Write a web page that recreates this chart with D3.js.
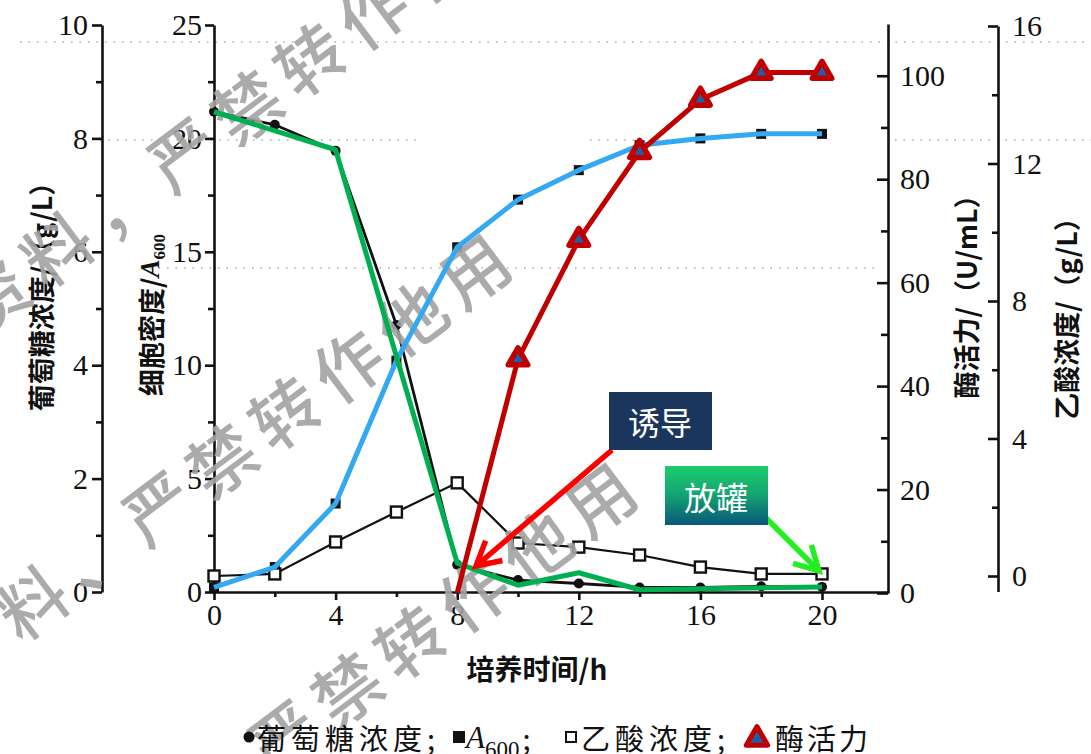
<!DOCTYPE html>
<html lang="zh">
<head>
  <meta charset="UTF-8">
  <title>发酵过程曲线</title>
  <script src="https://d3js.org/d3.v7.min.js"></script>
  <style>
    body { margin: 0; background: #fff; }
    svg { display: block; }
    .num { font-family: "Liberation Serif", "DejaVu Serif", serif; font-size: 30px; fill: #111; }
    .cjk { font-family: "Noto Sans CJK SC", sans-serif; fill: #111; }
    .axis path, .axis line { stroke: #111; stroke-width: 2.6; }
  </style>
</head>
<body>
<svg id="chart" width="1091" height="754"></svg>
<script>
  // sampling times (h)
  const hours = [0, 2, 4, 6, 8, 10, 12, 14, 16, 18, 20];
  // glucose g/L (filled circles)
  const glucose = [8.47, 8.24, 7.78, 4.71, 0.48, 0.21, 0.15, 0.08, 0.08, 0.1, 0.09];
  // cell density A600 (filled squares)
  const a600 = [0.2, 1.1, 3.9, 10.2, 15.2, 17.3, 18.6, 19.7, 20.0, 20.2, 20.2];
  // acetic acid g/L (open squares)
  const acetate = [0, 0.06, 0.99, 1.86, 2.71, 0.96, 0.84, 0.61, 0.26, 0.06, 0.06];
  // enzyme activity U/mL (triangles), measured after induction
  const enzymeHours = [8, 10, 12, 14, 16, 18, 20];
  const enzyme = [0, 45.2, 68.3, 85.3, 95.4, 100.6, 100.6];
  // green hand-drawn trace laid over the glucose curve
  const glucoseTraceHours = [0, 4, 8, 10, 12, 14, 20];
  const glucoseTrace = [8.47, 7.8, 0.51, 0.12, 0.34, 0.04, 0.09];

  // tick labels
  const timeTicks = [0, 4, 8, 12, 16, 20];
  const timeMinor = [2, 6, 10, 14, 18];
  const glucoseTicks = [0, 2, 4, 6, 8, 10];
  const glucoseMinor = [1, 3, 5, 7, 9];
  const cellTicks = [0, 5, 10, 15, 20, 25];
  const cellMinor = [2.5, 7.5, 12.5, 17.5, 22.5];
  const enzymeTicks = [0, 20, 40, 60, 80, 100];
  const enzymeMinor = [10, 30, 50, 70, 90];
  const acidTicks = [0, 4, 8, 12, 16];
  const acidMinor = [2, 6, 10, 14];

  const legendLabels = ["葡萄糖浓度;", "乙酸浓度;", "酶活力"];
  const watermark = ["资料，严禁转作他", "料、严禁转作他用", "严禁转作他用"];

  const svg = d3.select("#chart");
  svg.append("rect").attr("width", 1091).attr("height", 754).attr("fill", "#fff");

  // scales
  const x = d3.scaleLinear().domain([0, 20]).range([214, 822]);
  const xAxisScale = d3.scaleLinear().domain([0, x.invert(888)]).range([214, 888]);
  const yGlu = d3.scaleLinear().domain([0, 10]).range([592, 25]);
  const yCell = d3.scaleLinear().domain([0, 25]).range([592, 25]);
  const yEnz = d3.scaleLinear().domain([0, 110]).range([593, 24]);
  const yAcid = d3.scaleLinear().domain([0, 16]).range([576, 26]);
  const yAcidAxis = d3.scaleLinear().domain([-0.45, 16]).range([yAcid(-0.45), yAcid(16)]);

  // faint dotted scan noise rows
  [[20, 1091, 42], [100, 420, 140], [590, 700, 140], [895, 1091, 140], [150, 880, 268]].forEach(r => {
    svg.append("line").attr("x1", r[0]).attr("x2", r[1]).attr("y1", r[2]).attr("y2", r[2])
      .attr("stroke", "#333").attr("stroke-width", 1.6).attr("stroke-dasharray", "1.5 7")
      .attr("opacity", 0.4);
  });

  function axis(gen, pos, major, minor, majorSize, minorSize, isX) {
    const g = svg.append("g").attr("class", "axis")
      .attr("transform", isX ? `translate(0,${pos})` : `translate(${pos},0)`);
    g.call(gen.tickValues(major).tickSizeInner(majorSize).tickSizeOuter(0).tickFormat(d3.format("d")));
    g.selectAll("text").attr("class", "num");
    const gm = svg.append("g").attr("class", "axis")
      .attr("transform", isX ? `translate(0,${pos})` : `translate(${pos},0)`);
    gm.call(gen.tickValues(minor).tickSizeInner(minorSize).tickFormat(""));
    gm.select(".domain").remove();
    return g;
  }

  axis(d3.axisLeft(yGlu).tickPadding(4), 102, glucoseTicks, glucoseMinor, 10, 6);
  axis(d3.axisLeft(yCell).tickPadding(3), 214, cellTicks, cellMinor, 9, 6);
  axis(d3.axisBottom(xAxisScale).tickPadding(4), 592, timeTicks, timeMinor, 8, 5, true);
  axis(d3.axisRight(yEnz).tickPadding(12), 888, enzymeTicks, enzymeMinor, -11, -7);
  axis(d3.axisRight(yAcidAxis).tickPadding(14), 998, acidTicks, acidMinor, -10, -6);

  // axis titles
  function vTitle(cx, cy, parts) {
    const t = svg.append("text").attr("class", "cjk")
      .attr("transform", `translate(${cx},${cy}) rotate(-90)`)
      .attr("text-anchor", "middle").attr("dominant-baseline", "central")
      .style("font-size", "27px").style("font-weight", 700);
    parts.forEach(p => {
      const s = t.append("tspan").text(p.t);
      if (p.italic) s.style("font-style", "italic").style("font-family", "Liberation Serif, serif");
      if (p.sub) s.attr("baseline-shift", "sub").style("font-size", "17px").style("font-family", "Liberation Serif, serif");
    });
  }
  vTitle(40, 290, [{ t: "葡萄糖浓度/（g/L）" }]);
  vTitle(150, 315, [{ t: "细胞密度/" }, { t: "A", italic: true }, { t: "600", sub: true }]);
  vTitle(965, 290, [{ t: "酶活力/（U/mL）" }]);
  vTitle(1065, 312, [{ t: "乙酸浓度/（g/L）" }]);

  svg.append("text").attr("class", "cjk").attr("x", 537).attr("y", 668)
    .attr("text-anchor", "middle").attr("dominant-baseline", "central")
    .style("font-size", "28px").style("font-weight", 700).text("培养时间/h");

  // black scanned series
  const lineG = d3.line().x((d, i) => x(hours[i])).y(d => yGlu(d));
  const lineC = d3.line().x((d, i) => x(hours[i])).y(d => yCell(d));
  const lineA = d3.line().x((d, i) => x(hours[i])).y(d => yAcid(d));

  svg.append("path").attr("d", lineA(acetate)).attr("fill", "none")
    .attr("stroke", "#111").attr("stroke-width", 2.2);
  svg.append("path").attr("d", lineG(glucose)).attr("fill", "none")
    .attr("stroke", "#111").attr("stroke-width", 2.8);
  svg.append("path").attr("d", lineC(a600)).attr("fill", "none")
    .attr("stroke", "#111").attr("stroke-width", 2.8);

  svg.selectAll(".glc").data(glucose).enter().append("circle")
    .attr("cx", (d, i) => x(hours[i])).attr("cy", d => yGlu(d)).attr("r", 5).attr("fill", "#111");
  svg.selectAll(".cell").data(a600).enter().append("rect")
    .attr("x", (d, i) => x(hours[i]) - 5).attr("y", d => yCell(d) - 5)
    .attr("width", 10).attr("height", 10).attr("fill", "#111");
  svg.selectAll(".acid").data(acetate).enter().append("rect")
    .attr("x", (d, i) => x(hours[i]) - 5.5).attr("y", d => yAcid(d) - 5.5)
    .attr("width", 11).attr("height", 11).attr("fill", "#fff")
    .attr("stroke", "#111").attr("stroke-width", 2.4);

  // watermark (first character centre, then along the diagonal)
  const wmPos = [[-8, 294], [30, 600], [282, 734]];
  watermark.forEach((w, i) => {
    svg.append("text").attr("class", "cjk")
      .attr("transform", `translate(${wmPos[i][0]},${wmPos[i][1]}) rotate(-36.9)`)
      .attr("x", -34).attr("dominant-baseline", "central")
      .style("font-size", "68px").style("font-weight", 500).style("letter-spacing", "11px")
      .style("fill", "#a3a3a3").style("opacity", 0.9).text(w);
  });

  // coloured overlays
  svg.append("path").attr("d", lineC(a600)).attr("fill", "none")
    .attr("stroke", "#35a8f2").attr("stroke-width", 5).attr("stroke-linejoin", "round");
  svg.append("path")
    .attr("d", d3.line().x((d, i) => x(glucoseTraceHours[i])).y(d => yGlu(d))(glucoseTrace))
    .attr("fill", "none").attr("stroke", "#00b050").attr("stroke-width", 5).attr("stroke-linejoin", "round");

  const lineE = d3.line().x((d, i) => x(enzymeHours[i])).y(d => yEnz(d));
  svg.append("path").attr("d", lineE(enzyme)).attr("fill", "none")
    .attr("stroke", "#c00000").attr("stroke-width", 5).attr("stroke-linejoin", "round");
  const tri = d3.symbol().type(d3.symbolTriangle).size(165);
  svg.selectAll(".enz").data(enzyme.slice(1)).enter().append("path")
    .attr("d", tri)
    .attr("transform", (d, i) => `translate(${x(enzymeHours[i + 1])},${yEnz(d)})`)
    .attr("fill", "#1f5fa8").attr("stroke", "#c00000").attr("stroke-width", 5.5)
    .attr("stroke-linejoin", "round");

  // annotations
  const defs = svg.append("defs");
  const grad = defs.append("linearGradient").attr("id", "relGrad")
    .attr("x1", 0).attr("y1", 0).attr("x2", 0).attr("y2", 1);
  grad.append("stop").attr("offset", "0%").attr("stop-color", "#1dcc6c");
  grad.append("stop").attr("offset", "45%").attr("stop-color", "#14a872");
  grad.append("stop").attr("offset", "100%").attr("stop-color", "#0a5878");

  function arrow(x1, y1, x2, y2, color) {
    const a = Math.atan2(y2 - y1, x2 - x1), L = 27, sp = 0.5;
    svg.append("line").attr("x1", x1).attr("y1", y1).attr("x2", x2).attr("y2", y2)
      .attr("stroke", color).attr("stroke-width", 5.5);
    const head = [[x2 - L * Math.cos(a - sp), y2 - L * Math.sin(a - sp)], [x2, y2],
                  [x2 - L * Math.cos(a + sp), y2 - L * Math.sin(a + sp)]];
    svg.append("path").attr("d", d3.line()(head)).attr("fill", "none")
      .attr("stroke", color).attr("stroke-width", 5.5).attr("stroke-linejoin", "miter");
  }
  arrow(612, 450, 476, 566, "#ff0000");
  arrow(766, 518, 819, 571, "#22ee22");

  svg.append("rect").attr("x", 609).attr("y", 392).attr("width", 103).attr("height", 58).attr("fill", "#1b365d");
  svg.append("text").attr("class", "cjk").attr("x", 660).attr("y", 421)
    .attr("text-anchor", "middle").attr("dominant-baseline", "central")
    .style("font-size", "32px").style("fill", "#fff").text("诱导");
  svg.append("rect").attr("x", 665).attr("y", 466).attr("width", 103).attr("height", 59).attr("fill", "url(#relGrad)");
  svg.append("text").attr("class", "cjk").attr("x", 716).attr("y", 496)
    .attr("text-anchor", "middle").attr("dominant-baseline", "central")
    .style("font-size", "32px").style("fill", "#fff").text("放罐");

  // legend
  const ly = 737;
  const lg = svg.append("g");
  lg.append("circle").attr("cx", 249).attr("cy", ly).attr("r", 5.5).attr("fill", "#111");
  lg.append("text").attr("class", "cjk").attr("x", 257).attr("y", ly).attr("dominant-baseline", "central")
    .style("font-size", "29px").style("letter-spacing", "5px").text(legendLabels[0]);
  lg.append("rect").attr("x", 453).attr("y", ly - 6).attr("width", 12).attr("height", 12).attr("fill", "#111");
  const at = lg.append("text").attr("class", "num").attr("x", 466).attr("y", ly).attr("dominant-baseline", "central")
    .style("font-size", "31px");
  at.append("tspan").style("font-style", "italic").text("A");
  at.append("tspan").attr("baseline-shift", "sub").style("font-size", "23px").text("600");
  at.append("tspan").attr("class", "cjk").attr("dx", 3).style("font-size", "29px").text(";");
  lg.append("rect").attr("x", 566).attr("y", ly - 5).attr("width", 10).attr("height", 10)
    .attr("fill", "#fff").attr("stroke", "#111").attr("stroke-width", 2);
  lg.append("text").attr("class", "cjk").attr("x", 581).attr("y", ly).attr("dominant-baseline", "central")
    .style("font-size", "29px").style("letter-spacing", "5px").text(legendLabels[1]);
  lg.append("path").attr("d", d3.symbol().type(d3.symbolTriangle).size(200))
    .attr("transform", `translate(757,${ly + 2})`)
    .attr("fill", "#1f5fa8").attr("stroke", "#c00000").attr("stroke-width", 5).attr("stroke-linejoin", "round");
  lg.append("text").attr("class", "cjk").attr("x", 775).attr("y", ly).attr("dominant-baseline", "central")
    .style("font-size", "29px").style("letter-spacing", "3px").text(legendLabels[2]);
</script>
</body>
</html>
